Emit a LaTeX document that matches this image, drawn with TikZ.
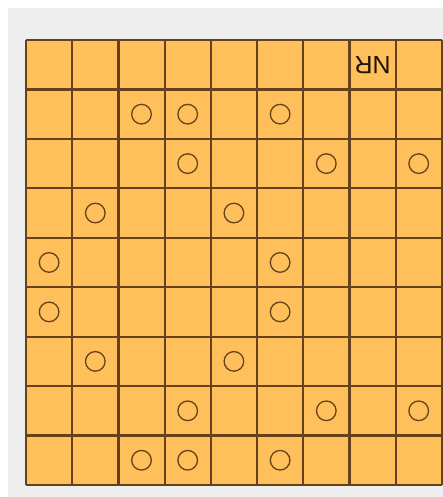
\documentclass[tikz,border=0pt]{standalone}
\usepackage{fontspec}
\setmainfont{Liberation Sans}
\definecolor{bggray}{HTML}{EEEEEE}
\definecolor{cellfill}{HTML}{FFC05C}
\definecolor{gridline}{HTML}{66421A}
\tikzset{
  gridstyle/.style={draw=gridline, line width=2.2pt},
  stone/.style={draw=gridline, line width=1.3pt},
}
\begin{document}
\begin{tikzpicture}[x=1pt,y=-1pt]
\useasboundingbox (0,0) rectangle (443,497);
\fill[white] (0,0) rectangle (443,497);
\fill[bggray] (8,8) rectangle (443,497);
\def\cw{46.2}
\def\ch{49.44}
\fill[cellfill] (26,40) rectangle (26+9*\cw,40+9*\ch);
\foreach \i in {0,...,9} {
  \draw[gridstyle] (26+\i*\cw,40) -- (26+\i*\cw,40+9*\ch);
  \draw[gridstyle] (26,40+\i*\ch) -- (26+9*\cw,40+\i*\ch);
}
\foreach \c/\r in {2/1,3/1,5/1, 3/2,6/2,8/2, 1/3,4/3, 0/4,5/4, 0/5,5/5, 1/6,4/6, 3/7,6/7,8/7, 2/8,3/8,5/8} {
  \draw[stone] (26+\c*\cw+0.5*\cw, 40+\r*\ch+0.5*\ch) circle (9.8);
}
\node[rotate=180, text=black!70!gridline, font=\fontsize{25}{25}\selectfont, inner sep=0pt] (nr) at (26+7.5*\cw, 40+0.5*\ch) {NR};
\end{tikzpicture}
\end{document}
